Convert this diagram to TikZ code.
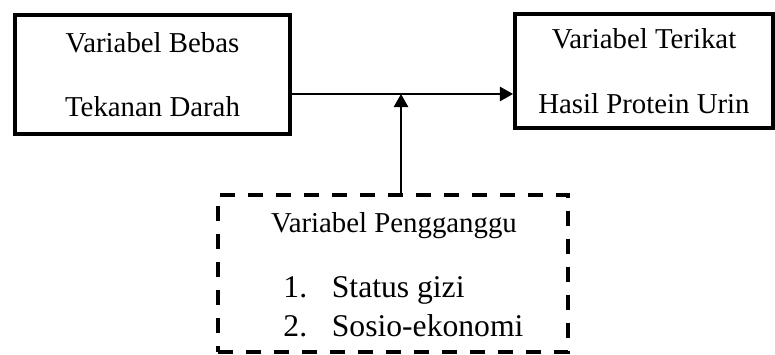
\documentclass[tikz,border=0pt]{standalone}
\usepackage{fontspec}
\setmainfont{Liberation Serif}
\usetikzlibrary{arrows.meta}

\begin{document}
\begin{tikzpicture}[
    kotak/.style={draw, line width=2.85pt, align=center,
      font=\fontsize{20.5}{46}\selectfont},
    kotakputus/.style={draw, line width=2.85pt,
      dash pattern=on 0.375cm off 0.325cm},
    teks/.style={font=\fontsize{20.5}{24}\selectfont},
    daftar/.style={font=\fontsize{22.5}{27}\selectfont, anchor=base west, inner sep=0pt},
    panah/.style={line width=1.4pt, -{Triangle[length=0.33cm,width=0.36cm]}}]
      \useasboundingbox (0,0) rectangle (19.375,8.875) ;
      \node[kotak, minimum width=6.875cm, minimum height=2.975cm] %
      (bebas) at (3.8125,7.0125) {Variabel Bebas\\Tekanan Darah} ;
      \node[kotak, minimum width=6.45cm, minimum height=2.85cm] %
      (terikat) at (16.1,7.1) {Variabel Terikat\\Hasil Protein Urin} ;
      \node[kotakputus, minimum width=8.75cm, minimum height=3.925cm] %
      (pengganggu) at (9.825,2.0375) {} ;
      \node[teks, anchor=base] (judul) at (9.85,3.05) {Variabel Pengganggu} ;
      \node[daftar] (butir1) at (7.08,1.425) {\makebox[1.21cm][l]{1.}Status gizi} ;
      \node[daftar] (butir2) at (7.08,0.45) {\makebox[1.21cm][l]{2.}Sosio-ekonomi} ;
      \coordinate (simpang) at (10.025,6.525) ;
      \draw[panah] (bebas.east |- simpang) -- (terikat.west |- simpang) ;
      \draw[panah] (pengganggu.north -| simpang) -- (simpang) ;
    \end{tikzpicture}
\end{document}
